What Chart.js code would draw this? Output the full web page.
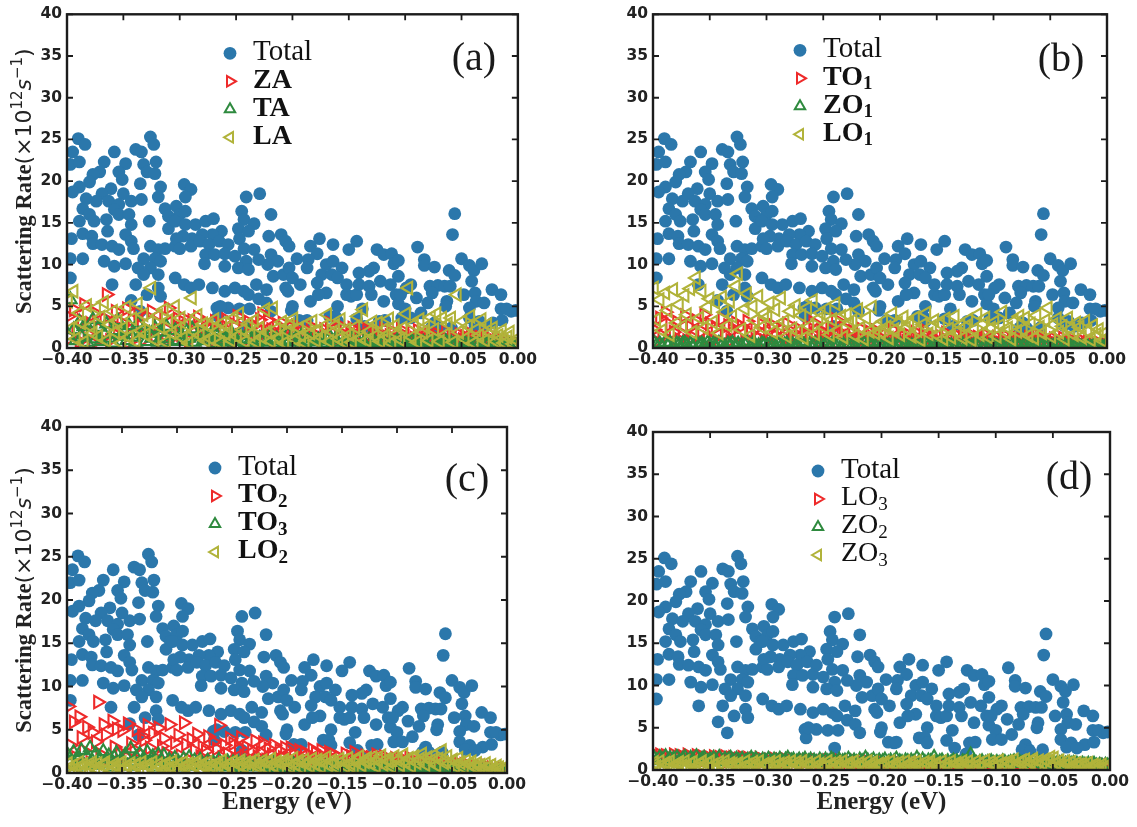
<!DOCTYPE html>
<html>
<head>
<meta charset="utf-8">
<title>Scattering rate by phonon mode</title>
<script src="https://cdn.jsdelivr.net/npm/chart.js@4.4.0/dist/chart.umd.min.js"></script>
<style>
  body { margin: 0; background: #fff; width: 1137px; height: 827px; position: relative; overflow: hidden; }
  canvas { position: absolute; }
</style>
</head>
<body>
<canvas id="chart-a"></canvas>
<canvas id="chart-b"></canvas>
<canvas id="chart-c"></canvas>
<canvas id="chart-d"></canvas>
<script>
// total scattering rate of every electron state (same in all four panels)
const totalE = [
  -0.390,-0.384,-0.395,-0.397,-0.389,-0.358,-0.339,-0.334,-0.326,-0.323,
  -0.321,-0.348,-0.367,-0.371,-0.377,-0.380,-0.354,-0.332,-0.329,-0.322,
  -0.335,-0.351,-0.361,-0.389,-0.395,-0.317,-0.319,-0.369,-0.383,-0.374,
  -0.363,-0.350,-0.343,-0.334,-0.354,-0.358,-0.386,-0.380,-0.376,-0.389,
  -0.365,-0.354,-0.345,-0.343,-0.327,-0.313,-0.310,-0.306,-0.310,-0.364,
  -0.348,-0.343,-0.396,-0.386,-0.378,-0.377,-0.369,-0.360,-0.354,-0.341,
  -0.326,-0.319,-0.313,-0.304,-0.332,-0.322,-0.317,-0.337,-0.326,-0.332,
  -0.319,-0.386,-0.367,-0.358,-0.348,-0.397,-0.397,-0.360,-0.339,-0.319,
  -0.329,-0.317,
  -0.296,-0.290,-0.295,-0.241,-0.229,-0.219,-0.245,-0.243,-0.234,-0.303,
  -0.300,-0.295,-0.304,-0.295,-0.286,-0.277,-0.270,-0.263,-0.271,-0.248,
  -0.239,-0.280,-0.289,-0.297,-0.303,-0.300,-0.290,-0.282,-0.274,-0.265,
  -0.257,-0.247,-0.243,-0.234,-0.221,-0.210,-0.206,-0.219,-0.213,-0.222,
  -0.277,-0.269,-0.260,-0.251,-0.241,-0.230,-0.278,-0.260,-0.248,-0.239,
  -0.304,-0.296,-0.290,-0.283,-0.271,-0.260,-0.251,-0.243,-0.232,-0.223,
  -0.217,-0.208,-0.206,-0.239,-0.230,-0.267,-0.257,-0.238,-0.223,-0.219,
  -0.176,-0.164,-0.143,-0.150,-0.184,-0.178,-0.203,-0.196,-0.186,-0.187,
  -0.170,-0.164,-0.156,-0.203,-0.125,-0.119,-0.112,-0.110,-0.128,-0.132,
  -0.141,-0.174,-0.165,-0.160,-0.152,-0.193,-0.200,-0.178,-0.170,-0.184,
  -0.177,-0.152,-0.148,-0.143,-0.141,-0.132,-0.130,-0.122,-0.113,-0.108,
  -0.106,-0.119,-0.138,-0.160,-0.167,-0.143,-0.123,-0.200,-0.204,-0.189,
  -0.056,-0.058,-0.089,-0.083,-0.083,-0.074,-0.061,-0.056,-0.050,-0.043,
  -0.039,-0.032,-0.041,-0.106,-0.106,-0.095,-0.099,-0.078,-0.071,-0.065,
  -0.060,-0.076,-0.104,-0.090,-0.080,-0.063,-0.064,-0.048,-0.038,-0.037,
  -0.030,-0.043,-0.023,-0.015,-0.015,-0.006,-0.100,-0.103,-0.095,-0.086,
  -0.074,-0.071,-0.043,-0.034,-0.022,
  -0.343,-0.335,-0.266,-0.264,-0.247,-0.241,-0.201,-0.194,-0.187,-0.162,
  -0.160,-0.136,-0.126,-0.118,-0.077,-0.070,-0.059,-0.038,-0.029,-0.014,
  -0.010,-0.002
];
const totalR = [
  25.1,24.4,23.5,22.0,22.3,23.5,23.8,23.5,25.3,24.4,
  22.3,22.1,22.3,21.1,20.8,19.9,21.1,22.0,21.1,20.9,
  19.7,20.2,19.1,19.3,18.7,19.3,18.1,18.5,17.9,17.6,
  17.6,18.5,17.6,17.8,17.2,16.6,16.7,16.0,15.2,15.2,
  15.4,16.0,16.0,14.8,15.2,16.7,15.8,15.2,14.3,14.0,
  13.6,12.8,13.1,13.7,13.4,12.5,12.4,12.2,11.8,11.9,
  12.2,11.8,11.9,12.2,10.7,10.7,10.4,9.6,9.6,8.8,
  8.8,10.7,10.4,9.8,10.1,10.7,8.4,7.6,7.6,7.2,
  6.4,6.2,
  19.6,19.0,18.1,18.1,18.5,16.0,16.4,15.4,14.9,17.0,
  16.0,16.4,15.2,14.8,14.8,15.2,15.5,14.0,13.6,14.3,
  14.0,13.6,13.1,13.4,13.1,11.9,12.2,12.8,12.4,12.8,
  12.4,13.1,11.9,11.8,13.4,13.6,12.8,11.2,10.4,10.0,
  11.2,11.2,11.3,11.0,10.4,10.6,10.1,9.8,9.6,9.4,
  8.4,7.6,7.2,7.6,7.2,6.8,7.2,6.8,7.6,7.0,
  8.6,8.8,7.2,6.4,5.9,4.8,4.8,4.7,5.4,4.4,
  13.1,12.4,12.8,11.8,12.2,11.3,12.2,10.7,10.6,9.6,
  10.0,10.4,9.6,9.6,11.8,11.2,11.3,10.1,9.6,9.2,
  9.0,8.8,8.8,8.4,7.6,7.6,8.4,7.8,6.6,5.6,
  6.4,6.4,6.2,6.4,7.6,7.4,6.4,8.0,7.6,6.4,
  5.3,5.6,4.7,5.0,3.8,3.5,3.2,5.0,6.8,3.2,
  16.1,13.6,12.1,10.6,9.9,9.7,9.3,8.7,10.7,9.9,
  9.3,10.1,8.0,10.5,8.6,7.6,7.2,7.4,7.5,7.4,
  7.4,6.6,6.4,6.0,5.4,5.6,5.0,6.4,6.6,5.6,
  5.4,4.8,7.0,6.4,4.7,4.4,4.7,3.6,3.6,4.2,
  3.0,2.4,3.6,3.2,3.0,
  5.7,4.4,3.8,5.0,4.7,2.6,4.5,3.3,3.3,3.8,
  3.2,2.6,1.9,3.3,2.4,2.2,2.4,2.7,2.6,3.3,
  4.7,4.5
];

// energies of the states used for the mode-resolved rates
const stateE = [
  -0.399,-0.397,-0.394,-0.392,-0.389,-0.387,-0.385,-0.382,-0.379,-0.377,
  -0.374,-0.372,-0.370,-0.367,-0.365,-0.362,-0.359,-0.357,-0.355,-0.352,
  -0.350,-0.347,-0.345,-0.342,-0.339,-0.337,-0.334,-0.332,-0.330,-0.327,
  -0.325,-0.322,-0.319,-0.317,-0.314,-0.312,-0.310,-0.307,-0.304,-0.302,
  -0.299,-0.297,-0.294,-0.292,-0.289,-0.287,-0.284,-0.282,-0.279,-0.277,
  -0.274,-0.272,-0.269,-0.267,-0.264,-0.262,-0.259,-0.257,-0.254,-0.252,
  -0.249,-0.247,-0.244,-0.242,-0.239,-0.237,-0.234,-0.232,-0.229,-0.227,
  -0.224,-0.222,-0.219,-0.217,-0.214,-0.212,-0.209,-0.207,-0.204,-0.202,
  -0.199,-0.197,-0.194,-0.192,-0.189,-0.187,-0.184,-0.182,-0.179,-0.177,
  -0.174,-0.172,-0.169,-0.167,-0.164,-0.162,-0.159,-0.157,-0.154,-0.152,
  -0.149,-0.147,-0.144,-0.142,-0.139,-0.137,-0.134,-0.132,-0.129,-0.127,
  -0.124,-0.122,-0.119,-0.117,-0.114,-0.112,-0.109,-0.107,-0.104,-0.102,
  -0.099,-0.097,-0.094,-0.092,-0.089,-0.087,-0.084,-0.082,-0.079,-0.077,
  -0.074,-0.072,-0.069,-0.067,-0.064,-0.062,-0.059,-0.057,-0.054,-0.052,
  -0.049,-0.047,-0.044,-0.042,-0.039,-0.037,-0.034,-0.032,-0.029,-0.027,
  -0.024,-0.022,-0.019,-0.017,-0.014,-0.012,-0.009,-0.007,-0.004,-0.002
];

// (a) acoustic modes
const zaRate = [
  3.8,1.2,4.6,2.1,0.8,3.3,5.2,1.7,2.9,0.6,
  4.1,2.4,1.1,3.6,6.4,0.9,2.8,4.4,1.5,3.1,
  2.2,4.7,0.7,3.4,1.8,4.2,2.6,1.0,3.9,2.0,
  4.4,1.4,3.0,0.8,3.7,2.3,4.8,1.2,2.7,3.5,
  1.6,3.6,2.4,0.9,3.3,1.9,3.7,2.8,1.1,3.0,
  2.5,0.8,3.2,1.7,2.9,1.3,3.4,2.1,0.7,2.6,
  3.8,1.5,2.4,0.9,3.1,1.8,2.7,1.2,3.4,4.1,
  1.9,3.3,2.2,0.8,2.8,1.4,3.0,1.9,0.9,2.5,
  1.6,2.7,1.0,2.3,1.5,0.7,2.6,1.8,1.2,2.1,
  0.9,2.2,1.4,3.0,1.8,0.8,2.0,1.3,2.4,1.0,
  1.7,2.4,0.8,1.9,2.6,1.2,2.2,0.9,1.6,2.0,
  1.1,1.8,2.3,0.7,1.5,2.0,1.0,1.7,2.2,0.8,
  1.4,0.8,1.9,1.2,2.1,0.9,1.6,1.1,1.8,0.7,
  1.2,1.7,0.6,1.4,2.0,0.9,1.5,1.1,0.7,1.6,
  1.0,1.4,0.8,1.7,1.1,0.6,1.3,0.9,1.5,0.7,
  0.9,0.6,1.2,0.8,1.0,0.5,0.9,0.7,0.4,0.6
];
const taRate = [
  1.5,5.8,2.2,0.9,3.1,1.3,2.6,0.7,1.9,3.4,
  1.1,2.5,0.8,1.7,2.9,1.2,0.6,2.1,3.3,1.4,
  2.0,0.9,2.7,1.3,0.7,3.0,1.6,2.2,0.8,1.8,
  1.2,2.4,0.7,1.9,1.1,2.6,0.8,1.5,2.1,0.9,
  1.6,0.8,2.0,1.2,2.3,0.7,1.4,1.8,0.9,1.3,
  1.0,1.7,0.6,1.4,2.1,0.9,1.2,0.7,1.8,1.1,
  0.8,1.5,1.1,0.6,1.9,1.0,1.4,0.7,1.2,0.9,
  1.3,0.7,1.6,0.9,1.1,0.6,1.4,0.8,1.7,1.0,
  0.7,1.2,0.9,1.5,0.6,1.1,0.8,1.3,0.5,1.0,
  1.1,0.6,0.9,1.4,0.7,1.0,0.5,1.2,0.8,0.6,
  0.8,1.1,0.5,0.9,1.2,0.6,0.8,1.0,0.5,0.7,
  0.6,0.9,0.7,1.0,0.5,0.8,0.6,0.9,0.4,0.7,
  0.7,0.5,0.8,0.6,0.9,0.4,0.7,0.5,0.8,0.6,
  0.5,0.7,0.4,0.6,0.8,0.5,0.6,0.4,0.7,0.5,
  0.4,0.6,0.5,0.3,0.6,0.4,0.5,0.3,0.5,0.4,
  0.4,0.3,0.5,0.3,0.4,0.2,0.4,0.3,0.2,0.3
];
const laRate = [
  5.6,2.3,6.8,1.1,4.2,3.0,0.7,5.1,2.6,1.8,
  4.8,1.4,3.7,5.5,0.9,2.8,4.4,1.9,3.2,0.6,
  2.4,4.9,1.3,3.5,0.8,5.3,2.1,4.0,1.6,3.1,
  7.2,1.0,3.9,2.5,4.6,0.7,3.3,1.8,5.0,2.2,
  3.6,1.2,2.8,0.6,6.0,2.0,3.9,1.5,2.9,0.9,
  2.7,1.1,3.4,2.0,0.6,3.0,1.7,2.5,0.9,3.6,
  1.4,4.1,2.2,0.8,2.9,1.6,3.3,0.7,2.4,1.3,
  4.6,1.9,0.8,4.8,2.3,1.2,3.1,0.6,2.0,2.8,
  3.5,1.0,2.4,1.5,0.6,2.9,1.8,3.2,0.9,2.1,
  1.3,2.6,4.0,0.8,1.9,2.7,1.1,3.4,0.7,2.2,
  1.6,0.7,2.5,3.8,1.2,4.6,0.9,2.0,3.1,1.4,
  3.0,0.8,2.2,1.5,3.5,0.6,2.7,1.7,1.0,2.4,
  4.1,7.2,1.3,2.8,0.7,3.4,1.9,2.5,0.9,3.7,
  2.2,4.1,0.8,3.6,1.6,2.9,3.6,0.7,6.4,1.9,
  3.2,1.1,2.6,3.8,0.6,2.2,1.5,3.4,0.9,2.8,
  1.8,2.4,0.8,1.5,2.1,0.6,1.3,1.9,0.5,1.0
];

// (b)
const to1Rate = [
  2.2,0.8,3.6,1.5,4.3,0.6,2.8,1.9,3.1,1.0,
  1.7,3.9,0.9,2.5,1.3,3.3,0.7,2.0,4.0,1.2,
  2.9,1.1,2.4,0.6,3.5,1.6,2.7,0.9,2.1,3.0,
  1.4,2.6,0.8,3.2,1.8,0.7,2.3,1.2,2.8,0.9,
  2.0,1.0,2.7,1.5,0.6,2.4,1.3,2.9,0.8,1.9,
  1.1,2.3,0.7,1.8,2.6,1.0,3.1,1.5,0.8,2.1,
  1.6,0.9,2.2,1.2,3.4,0.7,1.8,2.5,1.0,1.4,
  2.0,0.8,1.5,2.3,1.1,0.6,1.9,1.3,2.1,0.9,
  1.2,1.8,0.7,1.5,2.2,1.0,0.6,1.7,1.3,0.8,
  1.5,0.9,1.9,1.2,0.6,1.6,2.0,0.8,1.3,1.0,
  0.8,1.4,1.1,1.8,0.6,1.2,0.9,1.5,0.7,1.3,
  1.1,0.7,1.5,0.9,1.3,0.6,1.2,1.6,0.8,1.0,
  0.9,1.3,0.6,1.1,1.4,0.8,1.0,0.5,1.2,0.7,
  1.0,0.6,1.3,0.8,1.1,1.5,0.7,0.9,1.2,0.6,
  0.7,1.1,0.5,0.9,1.2,0.6,0.8,1.0,0.5,0.8,
  0.6,0.9,0.4,0.7,0.5,0.8,0.4,0.6,0.3,0.5
];
const zo1Rate = [
  0.6,0.3,0.5,0.2,0.7,0.4,0.6,0.3,0.5,0.4,
  0.5,0.6,0.3,0.5,0.2,0.6,0.4,0.5,0.3,0.6,
  0.4,0.5,0.3,0.6,0.4,0.2,0.5,0.4,0.6,0.3,
  0.5,0.3,0.4,0.6,0.2,0.5,0.4,0.3,0.5,0.4,
  0.3,0.5,0.4,0.2,0.5,0.3,0.4,0.5,0.2,0.4,
  0.4,0.3,0.5,0.4,0.2,0.4,0.3,0.5,0.3,0.4,
  0.3,0.4,0.2,0.5,0.3,0.4,0.2,0.4,0.3,0.5,
  0.4,0.2,0.4,0.3,0.5,0.2,0.4,0.3,0.2,0.4,
  0.3,0.4,0.2,0.3,0.4,0.2,0.3,0.4,0.2,0.3,
  0.2,0.3,0.4,0.2,0.3,0.2,0.4,0.3,0.2,0.3,
  0.3,0.2,0.3,0.4,0.2,0.3,0.2,0.3,0.2,0.4,
  0.2,0.3,0.2,0.3,0.2,0.4,0.2,0.3,0.2,0.3,
  0.3,0.2,0.3,0.2,0.3,0.2,0.3,0.2,0.3,0.2,
  0.2,0.3,0.2,0.2,0.3,0.2,0.3,0.2,0.2,0.3,
  0.2,0.2,0.3,0.2,0.2,0.3,0.2,0.2,0.1,0.2,
  0.2,0.1,0.2,0.2,0.1,0.2,0.1,0.2,0.1,0.1
];
const lo1Rate = [
  7.2,3.4,5.8,2.1,6.6,4.5,1.6,7.0,3.0,5.2,
  2.6,6.3,4.0,7.1,1.9,8.4,3.6,6.8,2.4,4.9,
  5.9,3.1,5.5,1.8,6.1,4.3,2.7,5.6,3.8,7.4,
  8.9,2.2,4.7,6.5,1.5,5.0,3.3,6.2,2.5,4.1,
  3.7,5.4,1.9,4.6,2.8,6.0,3.2,1.4,4.4,2.3,
  5.1,2.0,3.9,1.2,4.8,2.6,5.7,1.7,3.5,4.2,
  2.5,4.7,1.6,3.4,5.3,2.1,3.8,1.3,4.0,2.9,
  3.3,1.5,4.6,2.4,1.1,3.6,2.0,4.9,1.8,2.7,
  1.9,3.2,2.5,1.2,4.1,2.2,3.0,1.6,3.7,2.4,
  3.0,1.4,3.6,2.1,1.0,2.8,4.2,1.7,2.6,3.3,
  1.5,2.9,1.1,3.5,2.3,1.3,3.8,2.0,2.7,1.2,
  2.6,3.4,1.0,2.2,4.0,1.6,2.9,3.6,1.3,2.4,
  3.1,1.4,2.7,4.3,1.9,2.4,1.1,3.2,2.0,3.8,
  2.2,3.6,1.5,2.9,1.2,3.9,2.5,1.8,3.3,4.8,
  1.4,2.8,3.5,1.9,2.6,1.1,3.6,2.3,1.6,3.0,
  2.5,1.3,3.2,2.0,1.0,2.7,1.6,2.2,0.9,1.8
];

// (c)
const to2Rate = [
  7.7,3.2,5.9,1.8,6.5,4.1,2.6,5.3,1.2,4.7,
  3.6,8.2,2.2,5.6,4.4,1.5,6.0,3.0,5.1,2.4,
  4.9,1.9,5.7,3.4,2.7,5.0,1.4,4.3,3.8,5.5,
  2.9,4.6,1.7,5.2,3.1,4.0,2.3,5.6,1.6,3.5,
  4.4,2.0,5.8,3.3,1.5,3.9,2.6,4.5,1.9,3.0,
  2.5,4.2,1.4,3.6,2.8,5.5,1.8,3.2,2.2,4.0,
  3.4,1.6,2.9,4.1,2.0,3.0,1.3,2.6,3.7,1.9,
  2.4,3.5,1.5,2.8,2.1,3.2,1.2,2.6,1.8,2.9,
  1.7,2.9,2.2,1.3,2.6,1.8,2.4,1.1,2.0,2.7,
  2.3,1.4,2.6,1.9,1.2,2.4,1.7,2.1,1.0,1.8,
  1.5,2.2,1.1,1.9,2.4,1.4,1.7,0.9,2.0,1.3,
  1.8,1.2,2.1,1.5,0.9,1.9,1.3,1.6,1.0,1.7,
  1.2,1.6,0.9,1.4,1.8,1.0,1.3,0.8,1.5,1.1,
  1.0,1.4,0.8,1.2,0.7,1.3,0.9,1.1,0.6,1.0,
  0.9,0.6,1.1,0.8,1.0,0.5,0.8,0.7,0.9,0.5,
  0.7,0.5,0.8,0.4,0.6,0.5,0.3,0.5,0.4,0.3
];
const to3Rate = [
  2.0,1.2,2.4,0.8,1.7,2.6,1.0,1.9,2.9,1.4,
  2.2,0.9,1.6,2.5,1.1,2.0,0.7,1.8,2.3,1.3,
  1.5,2.1,0.8,2.8,1.3,1.8,2.2,0.9,1.6,2.4,
  1.1,1.9,0.7,2.1,1.4,2.0,0.8,1.5,1.2,1.7,
  1.3,0.7,1.6,1.1,1.8,0.8,1.4,1.0,1.5,0.9,
  1.0,1.4,0.6,1.2,0.9,1.5,0.7,1.1,1.3,0.8,
  1.2,0.8,1.1,0.6,1.3,0.9,1.0,0.7,1.2,0.8,
  0.9,1.1,0.6,1.0,0.8,1.2,0.7,0.9,0.6,1.0,
  0.8,0.6,1.0,0.7,0.9,0.5,0.8,0.6,0.9,0.7,
  0.6,0.8,0.5,0.7,0.9,0.6,0.7,0.5,0.8,0.6,
  0.7,0.5,0.6,0.8,0.5,0.7,0.6,0.4,0.6,0.5,
  0.5,0.6,0.4,0.7,0.5,0.6,0.4,0.5,0.6,0.4,
  0.5,0.4,0.6,0.5,0.4,0.5,0.3,0.5,0.4,0.5,
  0.4,0.5,0.3,0.4,0.5,0.3,0.4,0.3,0.4,0.3,
  0.3,0.4,0.3,0.2,0.4,0.3,0.3,0.2,0.3,0.2,
  0.3,0.2,0.3,0.2,0.2,0.1,0.2,0.2,0.1,0.1
];
const lo2Rate = [
  1.1,0.4,0.9,0.2,1.2,0.6,1.0,0.3,0.8,1.2,
  0.5,1.1,0.3,0.9,1.2,0.6,0.2,1.0,0.7,1.1,
  1.2,0.4,0.8,1.1,0.3,1.0,0.6,1.2,0.2,0.9,
  0.7,1.2,0.4,1.0,0.8,0.3,1.1,0.6,1.3,0.5,
  1.0,0.3,1.2,0.7,1.1,0.4,0.9,1.3,0.5,1.0,
  0.6,1.2,0.8,0.3,1.1,0.9,1.4,0.5,1.0,0.7,
  1.3,0.5,1.0,1.4,0.7,1.2,0.4,1.1,1.5,0.8,
  0.9,1.4,0.6,1.2,1.6,0.8,1.3,0.5,1.1,1.5,
  1.2,0.7,1.7,1.0,1.4,0.6,1.5,1.1,0.8,1.6,
  1.0,1.5,0.7,1.3,1.8,0.9,1.4,1.2,0.6,1.6,
  1.4,0.8,1.7,1.1,0.6,1.5,1.9,0.9,1.3,1.7,
  1.1,1.8,0.8,1.5,2.0,1.0,1.6,1.3,0.7,1.9,
  1.5,0.9,2.1,1.3,1.7,0.8,1.9,1.2,1.6,2.2,
  1.0,1.8,1.4,2.0,0.9,1.6,2.6,1.2,1.9,1.1,
  1.5,0.8,1.7,1.2,0.6,1.4,1.0,1.3,0.7,1.1,
  0.9,0.5,1.1,0.7,0.9,0.4,0.8,0.6,0.5,0.4
];

// (d)
const lo3Rate = [
  1.9,1.5,1.8,1.3,1.7,1.6,1.4,1.8,1.5,1.7,
  1.6,1.4,1.8,1.5,1.3,1.7,1.4,1.6,1.2,1.5,
  1.4,1.6,1.2,1.5,1.3,1.6,1.1,1.4,1.5,1.2,
  1.3,1.5,1.1,1.4,1.2,1.3,1.0,1.4,1.2,1.1,
  1.2,1.0,1.3,1.1,1.2,0.9,1.2,1.0,1.1,1.2,
  1.1,0.9,1.2,1.0,1.1,0.8,1.0,1.1,0.9,1.0,
  1.0,1.1,0.8,1.0,0.9,1.1,0.8,0.9,1.0,0.8,
  0.9,1.0,0.8,0.9,0.7,1.0,0.8,0.9,0.7,0.9,
  0.8,0.9,0.7,0.8,0.9,0.7,0.8,0.6,0.8,0.7,
  0.7,0.8,0.6,0.8,0.7,0.6,0.8,0.7,0.6,0.7,
  0.7,0.6,0.7,0.5,0.7,0.6,0.7,0.5,0.6,0.7,
  0.6,0.7,0.5,0.6,0.5,0.7,0.6,0.5,0.6,0.5,
  0.6,0.5,0.6,0.5,0.6,0.4,0.5,0.6,0.5,0.4,
  0.5,0.6,0.4,0.5,0.4,0.5,0.6,0.4,0.5,0.4,
  0.5,0.4,0.5,0.4,0.3,0.5,0.4,0.5,0.3,0.4,
  0.4,0.3,0.4,0.5,0.3,0.4,0.3,0.4,0.6,0.3
];
const zo2Rate = [
  1.4,1.1,1.5,1.2,1.6,1.0,1.4,1.3,1.5,1.1,
  1.3,1.5,1.0,1.4,1.2,1.6,1.1,1.3,1.4,1.0,
  1.2,1.4,1.1,1.5,1.0,1.3,1.2,1.4,1.1,1.3,
  1.1,1.3,1.0,1.2,1.4,1.1,1.3,1.0,1.2,1.1,
  1.3,1.0,1.2,1.1,1.3,1.0,1.2,1.4,1.1,1.2,
  1.0,1.2,1.1,1.3,1.0,1.2,1.1,0.9,1.2,1.0,
  1.2,1.0,1.3,1.1,0.9,1.2,1.0,1.1,1.3,1.0,
  1.1,0.9,1.2,1.0,1.4,1.1,1.0,1.2,0.9,1.1,
  1.0,1.2,0.9,1.1,1.0,1.3,1.0,0.9,1.1,1.0,
  1.1,0.9,1.4,1.0,1.2,0.9,1.1,1.0,1.5,0.9,
  1.0,1.1,0.8,1.0,0.9,1.1,1.0,0.8,1.0,0.9,
  0.9,1.8,1.0,0.8,0.9,1.0,0.8,0.9,1.0,0.8,
  0.9,0.8,1.0,0.9,0.8,0.9,1.0,0.8,0.9,0.8,
  0.8,0.9,0.8,1.0,0.8,0.9,0.8,0.7,0.9,0.8,
  0.8,0.7,0.8,0.9,0.7,0.8,0.7,0.8,0.7,0.6,
  0.7,0.6,0.7,0.6,0.7,0.5,0.6,0.5,0.6,0.5
];
const zo3Rate = [
  0.9,0.4,1.0,0.2,0.8,0.6,1.0,0.3,0.7,0.9,
  0.5,1.0,0.3,0.8,0.9,0.2,0.7,1.0,0.4,0.8,
  1.0,0.6,0.3,0.9,0.5,1.0,0.2,0.8,0.7,0.4,
  0.8,0.3,1.0,0.6,0.2,0.9,0.5,1.0,0.3,0.7,
  0.6,0.9,0.4,1.0,0.7,0.3,0.9,0.5,1.0,0.2,
  0.9,0.5,1.0,0.3,0.8,0.6,0.2,1.0,0.7,0.4,
  0.4,1.0,0.7,0.2,0.9,0.5,1.0,0.3,0.8,0.6,
  1.0,0.3,0.8,0.6,0.2,1.0,0.5,0.9,0.4,0.7,
  0.6,0.9,0.3,1.0,0.7,0.4,0.9,0.2,1.0,0.5,
  0.9,0.4,1.0,0.6,0.3,0.9,0.7,1.0,0.2,0.8,
  0.3,1.0,0.7,0.4,1.0,0.2,0.8,0.6,1.0,0.5,
  1.0,0.6,0.3,1.0,0.8,0.4,1.1,0.2,0.9,0.7,
  0.5,1.1,0.8,0.3,1.0,0.7,1.2,0.4,0.9,1.1,
  1.2,0.6,1.0,1.3,0.4,1.1,0.8,1.2,1.0,1.5,
  1.4,0.8,1.1,0.5,1.0,0.7,0.9,0.4,0.8,0.6,
  0.7,0.4,0.8,0.3,0.6,0.5,0.2,0.6,0.4,0.3
];

// legend names; "_" marks a subscript
const namesA = ['ZA', 'TA', 'LA'];
const namesB = ['TO_1', 'ZO_1', 'LO_1'];
const namesC = ['TO_2', 'TO_3', 'LO_2'];
const namesD = ['LO_3', 'ZO_2', 'ZO_3'];

const BLUE = '#2b77ab';
const MARKS = [
  { color: '#ee2a2a', rotation: 90 },   // right-pointing
  { color: '#2e8a3e', rotation: 0 },    // up
  { color: '#b1b33a', rotation: -90 }   // left-pointing
];
const TRI_R = 7.2;
const TRI_W = 2.1;
const DOT_R = 6.4;

const panels = [
  { id: 'chart-a', left: 0, top: 0, w: 540, h: 400, area: { l: 67, t: 10, r: 523, b: 348 },
    rates: [zaRate, taRate, laRate], names: namesA, bold: true, tag: '(a)',
    leg: { dx: 163, dy: 39 }, tagPos: { dr: 44, dy: 45 }, yTitle: true, xTitle: false },
  { id: 'chart-b', left: 586, top: 0, w: 551, h: 400, area: { l: 653, t: 11, r: 1107, b: 348 },
    rates: [to1Rate, zo1Rate, lo1Rate], names: namesB, bold: true, tag: '(b)',
    leg: { dx: 147, dy: 36 }, tagPos: { dr: 46, dy: 46 }, yTitle: false, xTitle: false },
  { id: 'chart-c', left: 0, top: 400, w: 540, h: 427, area: { l: 67, t: 427, r: 507, b: 773 },
    rates: [to2Rate, to3Rate, lo2Rate], names: namesC, bold: true, tag: '(c)',
    leg: { dx: 148, dy: 41 }, tagPos: { dr: 40, dy: 53 }, yTitle: true, xTitle: true },
  { id: 'chart-d', left: 586, top: 400, w: 551, h: 427, area: { l: 653, t: 432, r: 1110, b: 770 },
    rates: [lo3Rate, zo2Rate, zo3Rate], names: namesD, bold: false, tag: '(d)',
    leg: { dx: 165, dy: 39 }, tagPos: { dr: 41, dy: 46 }, yTitle: false, xTitle: true }
];

const totalPts = totalE.map((e, i) => ({ x: e, y: totalR[i] }));

const fmtEnergy = (v) => Math.abs(v) < 1e-9 ? '0.00' : '\u2212' + Math.abs(v).toFixed(2);

// name with optional subscript, vertically centred on y
function drawName(ctx, name, x, y, size, weight) {
  const [base, sub] = name.split('_');
  ctx.textAlign = 'left';
  ctx.textBaseline = 'middle';
  ctx.font = `${weight} ${size}px "Liberation Serif", "DejaVu Serif", serif`;
  ctx.fillText(base, x, y);
  if (sub) {
    const w = ctx.measureText(base).width;
    ctx.font = `${weight} ${Math.round(size * 0.68)}px "Liberation Serif", "DejaVu Serif", serif`;
    ctx.fillText(sub, x + w, y + size * 0.25);
  }
}

function drawYTitle(ctx, cx, cy) {
  const parts = [
    { t: 'Scattering Rate', f: 'bold 22.5px "Liberation Serif", serif', dy: 0 },
    { t: '(\u00d710', f: '22px "DejaVu Sans", sans-serif', dy: 0 },
    { t: '12', f: '15px "DejaVu Sans", sans-serif', dy: -9 },
    { t: 's', f: 'italic 22px "DejaVu Sans", sans-serif', dy: 0 },
    { t: '\u22121', f: '15px "DejaVu Sans", sans-serif', dy: -9 },
    { t: ')', f: '22px "DejaVu Sans", sans-serif', dy: 0 }
  ];
  let total = 0;
  parts.forEach(p => { ctx.font = p.f; p.w = ctx.measureText(p.t).width; total += p.w; });
  ctx.save();
  ctx.translate(cx, cy);
  ctx.rotate(-Math.PI / 2);
  ctx.textAlign = 'left';
  ctx.textBaseline = 'alphabetic';
  let x = -total / 2;
  parts.forEach(p => { ctx.font = p.f; ctx.fillText(p.t, x, 8 + p.dy); x += p.w; });
  ctx.restore();
}

// frame with inward ticks on all four sides, plus legend, panel tag and axis titles
const framePlugin = {
  id: 'frame',
  afterDraw(chart, args, opts) {
    const { ctx, chartArea: a, scales } = chart;
    ctx.save();
    ctx.strokeStyle = '#1c1c1c';
    ctx.lineWidth = 1.8;
    ctx.beginPath();
    scales.x.ticks.forEach(t => {
      const px = scales.x.getPixelForValue(t.value);
      ctx.moveTo(px, a.bottom); ctx.lineTo(px, a.bottom - 6);
      ctx.moveTo(px, a.top); ctx.lineTo(px, a.top + 6);
    });
    scales.y.ticks.forEach(t => {
      const py = scales.y.getPixelForValue(t.value);
      ctx.moveTo(a.left, py); ctx.lineTo(a.left + 6, py);
      ctx.moveTo(a.right, py); ctx.lineTo(a.right - 6, py);
    });
    ctx.stroke();
    ctx.lineWidth = 2.4;
    ctx.strokeRect(a.left, a.top, a.right - a.left, a.bottom - a.top);

    // legend
    const lx = a.left + opts.leg.dx;
    let ly = a.top + opts.leg.dy;
    ctx.fillStyle = BLUE;
    Chart.helpers.drawPoint(ctx, { pointStyle: 'circle', radius: DOT_R, borderWidth: 0 }, lx, ly);
    ctx.fillStyle = '#111';
    drawName(ctx, 'Total', lx + 23, ly - 1, 29, 'normal');
    opts.names.forEach((n, i) => {
      ly += 28;
      ctx.strokeStyle = MARKS[i].color;
      ctx.fillStyle = 'rgba(0,0,0,0)';
      ctx.lineWidth = 2;
      Chart.helpers.drawPoint(ctx, { pointStyle: 'triangle', radius: 6, rotation: MARKS[i].rotation, borderWidth: 2 }, lx, ly);
      ctx.fillStyle = '#111';
      drawName(ctx, n, lx + 23, ly - 1, 28, opts.bold ? 'bold' : 'normal');
    });

    // panel tag
    ctx.fillStyle = '#1a1a1a';
    ctx.font = '40px "Liberation Serif", serif';
    ctx.textAlign = 'center';
    ctx.textBaseline = 'middle';
    ctx.fillText(opts.tag, a.right - opts.tagPos.dr, a.top + opts.tagPos.dy);

    ctx.fillStyle = '#222';
    if (opts.yTitle) drawYTitle(ctx, 23, (a.top + a.bottom) / 2);
    if (opts.xTitle) {
      ctx.font = 'bold 25px "Liberation Serif", serif';
      ctx.textAlign = 'center';
      ctx.textBaseline = 'middle';
      ctx.fillText('Energy (eV)', (a.left + a.right) / 2, 403);
    }
    ctx.restore();
  }
};

const tickFont = { family: 'DejaVu Sans', weight: 'bold', size: 15.5 };

panels.forEach(p => {
  const canvas = document.getElementById(p.id);
  canvas.width = p.w;
  canvas.height = p.h;
  canvas.style.left = p.left + 'px';
  canvas.style.top = p.top + 'px';

  const datasets = [{
    label: 'Total',
    data: totalPts,
    pointStyle: 'circle',
    pointRadius: DOT_R,
    pointBackgroundColor: BLUE,
    pointBorderWidth: 0,
    clip: 0,
    order: 10
  }];
  p.rates.forEach((r, i) => {
    datasets.push({
      label: p.names[i],
      data: stateE.map((e, k) => ({ x: e, y: r[k] })),
      pointStyle: 'triangle',
      pointRotation: MARKS[i].rotation,
      pointRadius: TRI_R,
      pointBorderColor: MARKS[i].color,
      pointBackgroundColor: 'rgba(0,0,0,0)',
      pointBorderWidth: TRI_W,
      clip: 0,
      order: 3 - i
    });
  });

  new Chart(canvas, {
    type: 'scatter',
    data: { datasets },
    options: {
      responsive: false,
      animation: false,
      events: [],
      layout: { padding: { left: 0, top: p.area.t - p.top, right: p.left + p.w - p.area.r, bottom: 0 } },
      plugins: {
        legend: { display: false },
        tooltip: { enabled: false },
        frame: { leg: p.leg, names: p.names, bold: p.bold, tag: p.tag, tagPos: p.tagPos, yTitle: p.yTitle, xTitle: p.xTitle }
      },
      scales: {
        x: {
          type: 'linear', min: -0.4, max: 0,
          ticks: { stepSize: 0.05, autoSkip: false, maxRotation: 0, padding: 3, color: '#222', font: tickFont, callback: fmtEnergy },
          grid: { display: false, drawTicks: false },
          border: { display: false },
          afterFit: s => { s.height = p.top + p.h - p.area.b; }
        },
        y: {
          min: 0, max: 40,
          ticks: { stepSize: 5, padding: 5, color: '#222', font: tickFont },
          grid: { display: false, drawTicks: false },
          border: { display: false },
          afterFit: s => { s.width = p.area.l - p.left; }
        }
      }
    },
    plugins: [framePlugin]
  });
});
</script>
</body>
</html>
